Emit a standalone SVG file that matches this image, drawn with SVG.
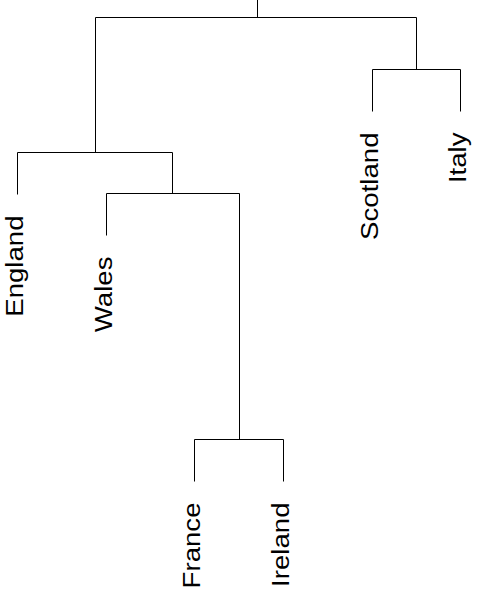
<svg xmlns="http://www.w3.org/2000/svg" width="480" height="590" viewBox="0 0 480 590">
<style>
.ln{stroke:#000;stroke-width:1;fill:none}
.lb{font-family:"Liberation Sans",Arial,sans-serif;font-size:24px;fill:#000;text-anchor:end}
</style>
<rect width="480" height="590" fill="#fff"/>
<g id="connectors" class="ln">
<path d="M257.5,0V17.5M95.5,17.5H416.5"/>
<path d="M416.5,17.5V69.5M372.5,111.5V69.5H460.5V111.5"/>
<path d="M95.5,17.5V152.5M17.5,194.5V152.5H172.5V193.5"/>
<path d="M106.5,235.5V193.5H239.5V439.5"/>
<path d="M194.5,481.5V439.5H283.5V481.5"/>
</g>
<g id="england"><text class="lb" transform="translate(22.5,215.5) rotate(-90) scale(1.15,1)">England</text></g>
<g id="wales"><text class="lb" transform="translate(111.5,256.5) rotate(-90) scale(1.15,1)">Wales</text></g>
<g id="france"><text class="lb" transform="translate(199.5,502.5) rotate(-90) scale(1.15,1)">France</text></g>
<g id="ireland"><text class="lb" transform="translate(288.5,502.5) rotate(-90) scale(1.15,1)">Ireland</text></g>
<g id="scotland"><text class="lb" transform="translate(377.5,132.5) rotate(-90) scale(1.15,1)">Scotland</text></g>
<g id="italy"><text class="lb" transform="translate(465.5,132.5) rotate(-90) scale(1.15,1)">Italy</text></g>
</svg>
